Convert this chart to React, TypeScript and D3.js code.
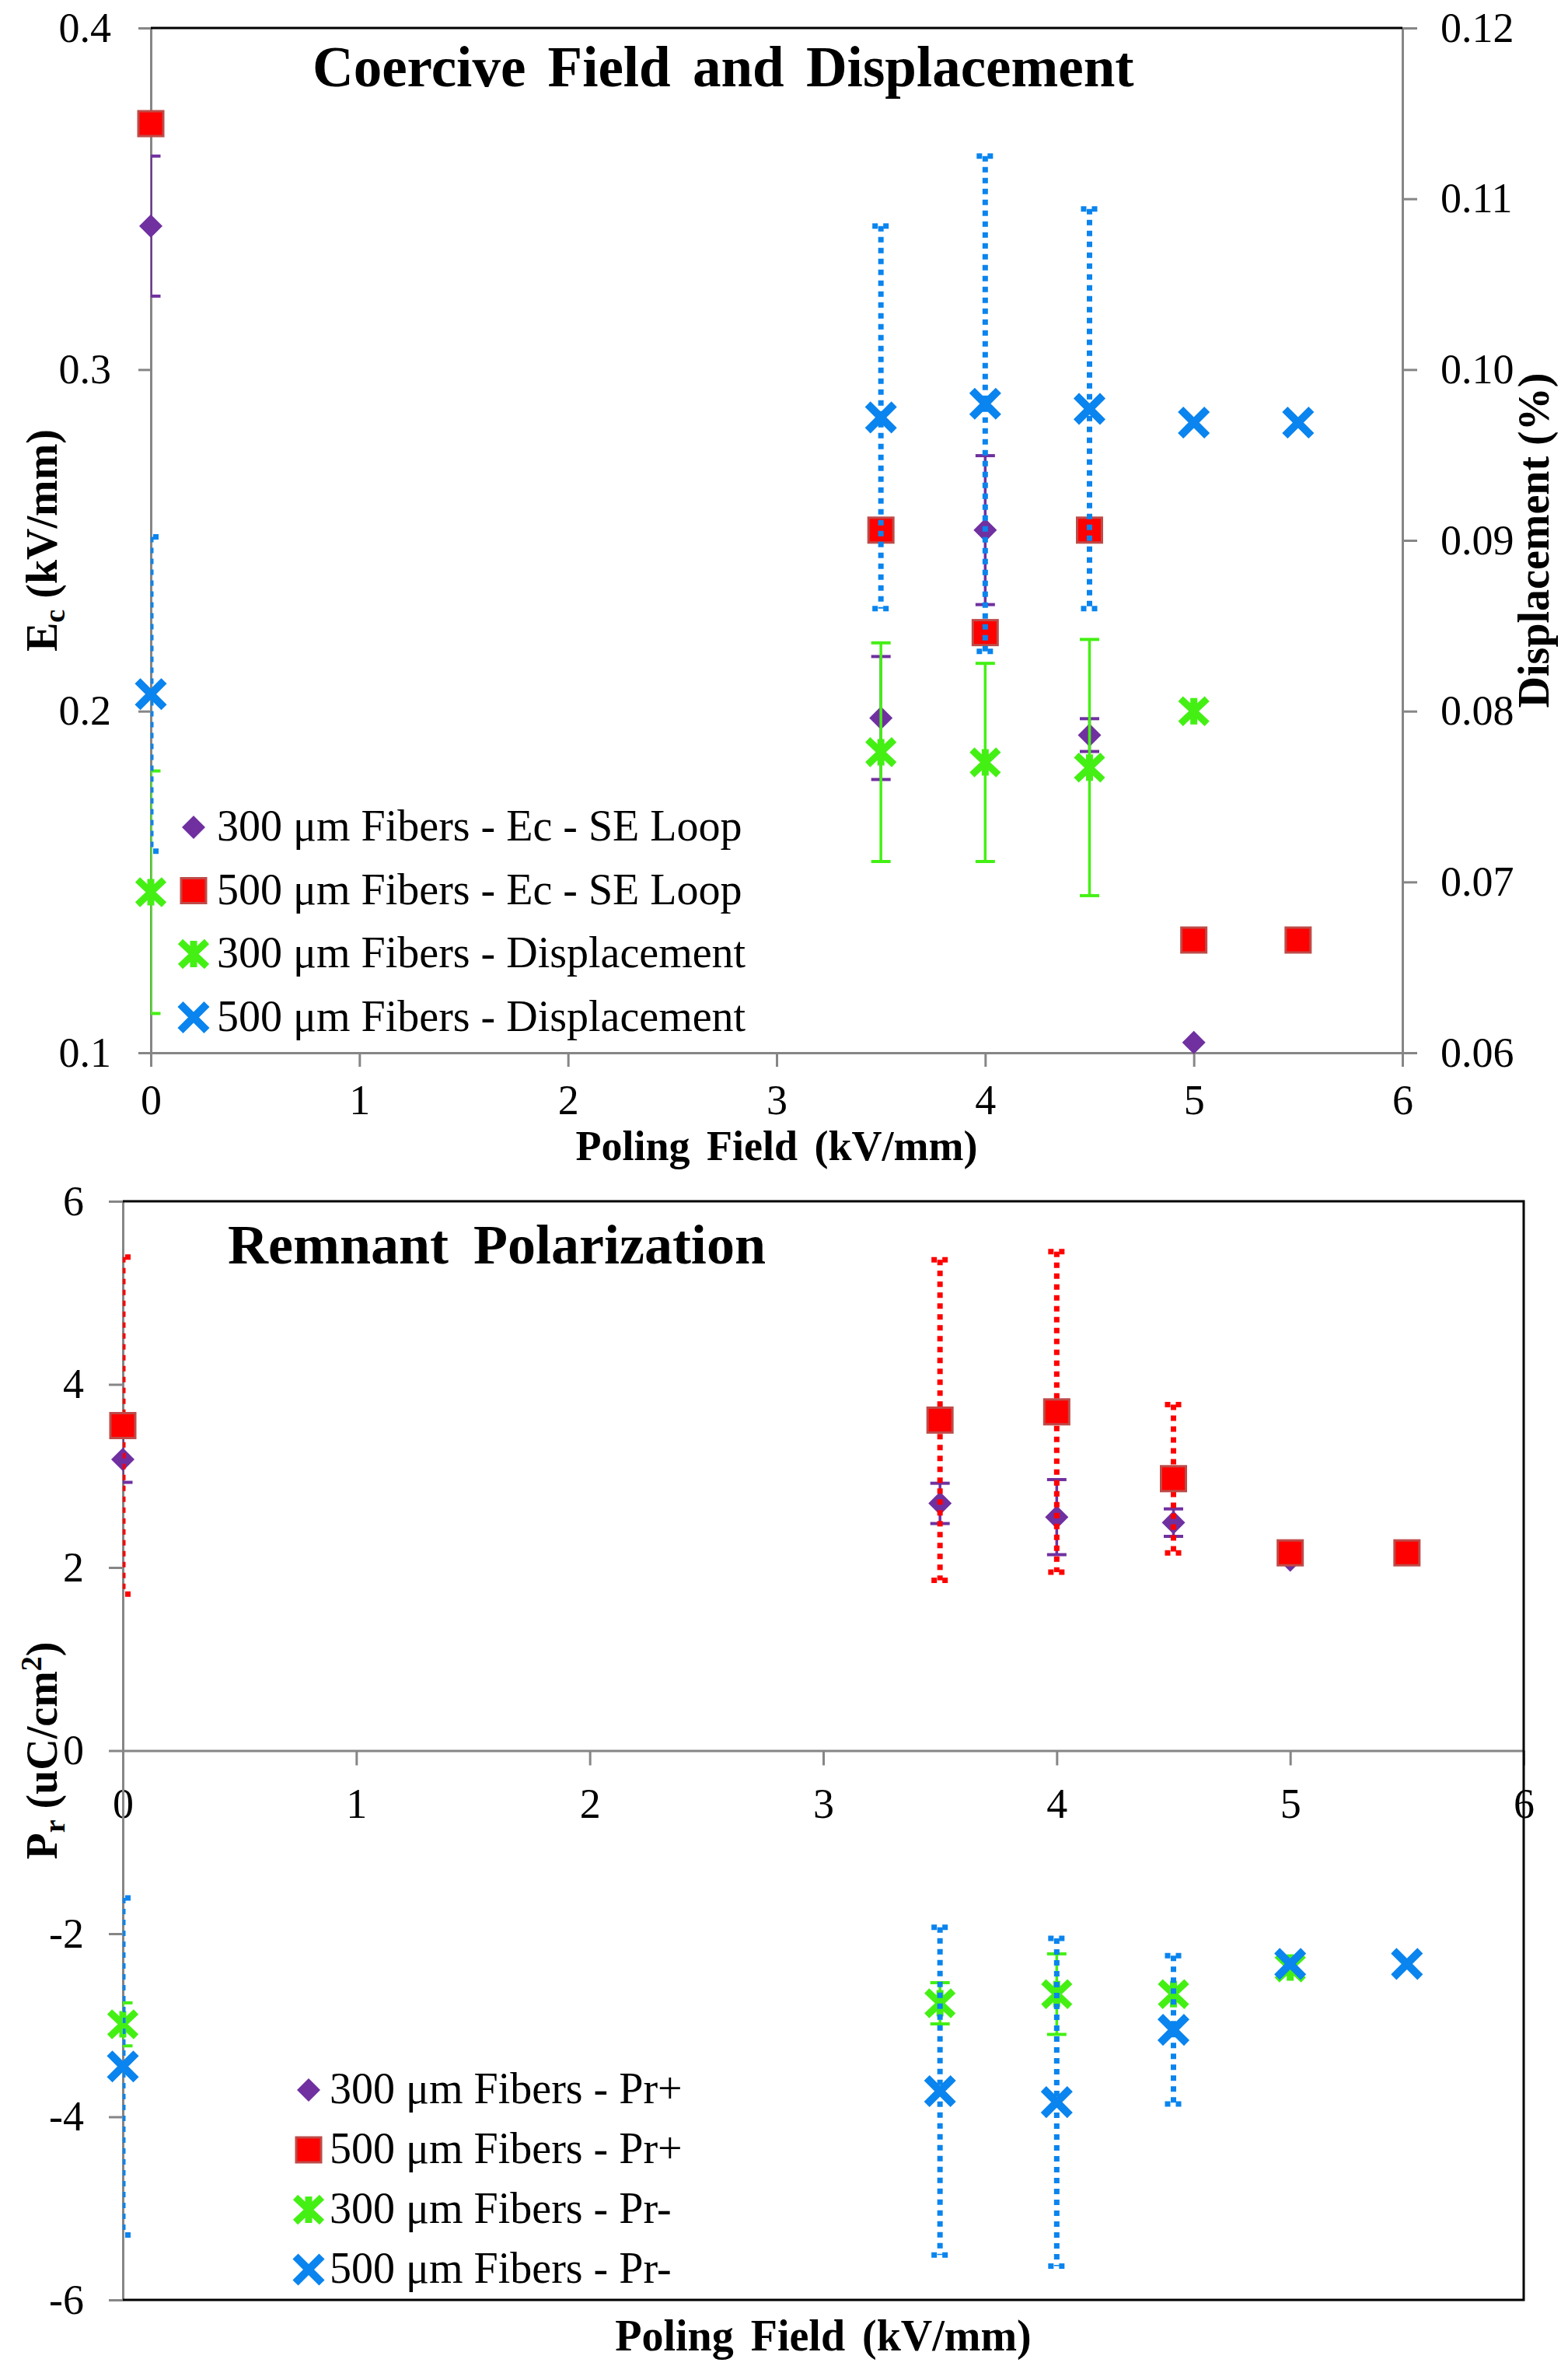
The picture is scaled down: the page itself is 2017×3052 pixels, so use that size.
import { useEffect, useRef } from "react";
import * as d3 from "d3";

const W = 2017;
const H = 3052;

const SERIF = "'Liberation Serif', 'Times New Roman', serif";
const GRAY = "#868686";
const PURPLE = "#7030A0";
const RED = "#FF0000";
const RED_EDGE = "#BE4B48";
const GREEN = "#44F014";
const BLUE = "#0A84EE";

// ---- Top chart: coercive field (left axis) and displacement (right axis)
const fieldEc300 = [0, 3.5, 4, 4.5, 5];
const ec300 = [0.342, 0.198, 0.253, 0.193, 0.103];
const ec300Err = [0.0205, 0.018, 0.0218, 0.0048, 0];

const fieldEc500 = [0, 3.5, 4, 4.5, 5, 5.5];
const ec500 = [0.372, 0.253, 0.223, 0.253, 0.133, 0.133];

const fieldDisp300 = [0, 3.5, 4, 4.5, 5];
const disp300 = [0.0694, 0.0776, 0.077, 0.0767, 0.08];
const disp300Err = [0.0071, 0.0064, 0.0058, 0.0075, 0];

const fieldDisp500 = [0, 3.5, 4, 4.5, 5, 5.5];
const disp500 = [0.081, 0.0972, 0.098, 0.0977, 0.0969, 0.0969];
const disp500Err = [0.0092, 0.0112, 0.0145, 0.0117, 0, 0];

const topLegend = [
  "300 μm Fibers - Ec - SE Loop",
  "500 μm Fibers - Ec - SE Loop",
  "300 μm Fibers - Displacement",
  "500 μm Fibers - Displacement",
];

// ---- Bottom chart: remnant polarization
const fieldPrPlus300 = [0, 3.5, 4, 4.5, 5];
const prPlus300 = [3.18, 2.7, 2.55, 2.49, 2.08];
const prPlus300Err = [0.25, 0.22, 0.41, 0.15, 0];

const fieldPrPlus500 = [0, 3.5, 4, 4.5, 5, 5.5];
const prPlus500 = [3.55, 3.61, 3.7, 2.97, 2.16, 2.16];
const prPlus500Err = [1.84, 1.75, 1.75, 0.81, 0, 0];

const fieldPrMinus300 = [0, 3.5, 4, 4.5, 5];
const prMinus300 = [-2.99, -2.76, -2.66, -2.66, -2.37];
const prMinus300Err = [0.235, 0.225, 0.44, 0, 0];

const fieldPrMinus500 = [0, 3.5, 4, 4.5, 5, 5.5];
const prMinus500 = [-3.45, -3.72, -3.84, -3.05, -2.33, -2.33];
const prMinus500Err = [1.84, 1.79, 1.79, 0.81, 0, 0];

const bottomLegend = [
  "300 μm Fibers - Pr+",
  "500 μm Fibers - Pr+",
  "300 μm Fibers - Pr-",
  "500 μm Fibers - Pr-",
];

const fieldTicks = [0, 1, 2, 3, 4, 5, 6];
const ecTicks = [0.1, 0.2, 0.3, 0.4];
const dispTicks = [0.06, 0.07, 0.08, 0.09, 0.1, 0.11, 0.12];
const prTicks = [-6, -4, -2, 0, 2, 4, 6];

type Shape = "diamond" | "square" | "star" | "cross";
type Sel = d3.Selection<SVGGElement, unknown, null, undefined>;

interface Series {
  x: number[];
  y: number[];
  err: number[] | null;
  shape: Shape;
  dotted: boolean;
  color: string;
  scale: d3.ScaleLinear<number, number>;
}

function drawMarker(g: Sel, shape: Shape, cx: number, cy: number) {
  if (shape === "diamond") {
    g.append("path")
      .attr("d", `M${cx},${cy - 15}L${cx + 15},${cy}L${cx},${cy + 15}L${cx - 15},${cy}Z`)
      .attr("fill", PURPLE);
  } else if (shape === "square") {
    g.append("rect")
      .attr("x", cx - 16)
      .attr("y", cy - 16)
      .attr("width", 32)
      .attr("height", 32)
      .attr("fill", RED)
      .attr("stroke", RED_EDGE)
      .attr("stroke-width", 3);
  } else if (shape === "cross") {
    g.append("path")
      .attr("d", `M${cx - 17},${cy - 17}L${cx + 17},${cy + 17}M${cx + 17},${cy - 17}L${cx - 17},${cy + 17}`)
      .attr("stroke", BLUE)
      .attr("stroke-width", 10)
      .attr("fill", "none");
  } else {
    g.append("path")
      .attr(
        "d",
        `M${cx - 17},${cy - 16}L${cx + 17},${cy + 16}M${cx + 17},${cy - 16}L${cx - 17},${cy + 16}M${cx},${cy - 17}V${cy + 17}`
      )
      .attr("stroke", GREEN)
      .attr("stroke-width", 9)
      .attr("fill", "none");
  }
}

function styleAxis(g: Sel) {
  g.select(".domain").attr("stroke", GRAY).attr("stroke-width", 3);
  g.selectAll(".tick line").attr("stroke", GRAY).attr("stroke-width", 3);
  g.selectAll(".tick text")
    .attr("fill", "#000")
    .attr("font-size", 54)
    .attr("font-family", SERIF);
}

function drawSeries(root: Sel, list: Series[], x: d3.ScaleLinear<number, number>, clipId: string) {
  list.forEach((s) => {
    const eg = root.append("g").attr("clip-path", `url(#${clipId})`);
    if (s.err) {
      s.x.forEach((xv, i) => {
        const e = s.err![i];
        if (!e) return;
        const cx = x(xv);
        const y1 = s.scale(s.y[i] + e);
        const y2 = s.scale(s.y[i] - e);
        const half = s.dotted ? 11 : 12.5;
        const sw = s.dotted ? 7 : 3.5;
        const dash = s.dotted ? "7,7" : null;
        eg.append("line")
          .attr("x1", cx).attr("x2", cx).attr("y1", y1).attr("y2", y2)
          .attr("stroke", s.color).attr("stroke-width", sw).attr("stroke-dasharray", dash);
        [y1, y2].forEach((yy) => {
          eg.append("line")
            .attr("x1", cx - half).attr("x2", cx + half).attr("y1", yy).attr("y2", yy)
            .attr("stroke", s.color).attr("stroke-width", s.dotted ? 7 : 4)
            .attr("stroke-dasharray", dash);
        });
      });
    }
    const mg = root.append("g");
    s.x.forEach((xv, i) => drawMarker(mg, s.shape, x(xv), s.scale(s.y[i])));
  });
}

function drawLegend(root: Sel, labels: string[], shapes: Shape[], mx: number, tx: number, y0: number, step: number) {
  const g = root.append("g");
  labels.forEach((label, i) => {
    const cy = y0 + i * step;
    drawMarker(g, shapes[i], mx, cy);
    g.append("text")
      .attr("x", tx)
      .attr("y", cy + 17)
      .attr("font-family", SERIF)
      .attr("font-size", 56)
      .attr("fill", "#000")
      .text(label);
  });
}

function drawTop(svg: d3.Selection<SVGSVGElement, unknown, null, undefined>) {
  const root = svg.append("g") as unknown as Sel;
  const left = 194, right = 1804, top = 36, bottom = 1354;

  const x = d3.scaleLinear().domain([0, 6]).range([left, right]);
  const yL = d3.scaleLinear().domain([0.1, 0.4]).range([bottom, top]);
  const yR = d3.scaleLinear().domain([0.06, 0.12]).range([bottom, top]);

  svg.select("defs")
    .append("clipPath").attr("id", "clipTop")
    .append("rect").attr("x", left).attr("y", top).attr("width", right - left).attr("height", bottom - top);

  root.append("g")
    .attr("transform", `translate(0,${bottom})`)
    .call(d3.axisBottom(x).tickValues(fieldTicks).tickSize(18).tickSizeOuter(0).tickPadding(23).tickFormat((d) => String(d)))
    .call(styleAxis);

  root.append("g")
    .attr("transform", `translate(${left},0)`)
    .call(d3.axisLeft(yL).tickValues(ecTicks).tickSize(16).tickSizeOuter(0).tickPadding(35).tickFormat(d3.format(".1f")))
    .call(styleAxis);

  root.append("g")
    .attr("transform", `translate(${right},0)`)
    .call(d3.axisRight(yR).tickValues(dispTicks).tickSize(19).tickSizeOuter(0).tickPadding(30).tickFormat(d3.format(".2f")))
    .call(styleAxis);

  // top border
  root.append("line")
    .attr("x1", left).attr("x2", right).attr("y1", top).attr("y2", top)
    .attr("stroke", "#000").attr("stroke-width", 3);

  root.append("text")
    .attr("x", 402).attr("y", 111)
    .attr("font-family", SERIF).attr("font-weight", "bold").attr("font-size", 73)
    .attr("word-spacing", 10)
    .text("Coercive Field and Displacement");

  root.append("text")
    .attr("x", (left + right) / 2).attr("y", 1492)
    .attr("text-anchor", "middle")
    .attr("font-family", SERIF).attr("font-weight", "bold").attr("font-size", 54)
    .attr("word-spacing", 8)
    .text("Poling Field (kV/mm)");

  const ly = root.append("text")
    .attr("transform", `translate(73,${(top + bottom) / 2}) rotate(-90)`)
    .attr("text-anchor", "middle")
    .attr("font-family", SERIF).attr("font-weight", "bold").attr("font-size", 56);
  ly.append("tspan").text("E");
  ly.append("tspan").attr("font-size", 38).attr("dy", 10).text("c");
  ly.append("tspan").attr("dy", -10).text(" (kV/mm)");

  root.append("text")
    .attr("transform", `translate(1992,${(top + bottom) / 2}) rotate(-90)`)
    .attr("text-anchor", "middle")
    .attr("font-family", SERIF).attr("font-weight", "bold").attr("font-size", 56)
    .text("Displacement (%)");

  const series: Series[] = [
    { x: fieldEc300, y: ec300, err: ec300Err, shape: "diamond", dotted: false, color: PURPLE, scale: yL },
    { x: fieldEc500, y: ec500, err: null, shape: "square", dotted: false, color: RED, scale: yL },
    { x: fieldDisp300, y: disp300, err: disp300Err, shape: "star", dotted: false, color: GREEN, scale: yR },
    { x: fieldDisp500, y: disp500, err: disp500Err, shape: "cross", dotted: true, color: BLUE, scale: yR },
  ];
  drawSeries(root, series, x, "clipTop");

  drawLegend(root, topLegend, ["diamond", "square", "star", "cross"], 249, 279, 1064, 81.5);
}

function drawBottom(svg: d3.Selection<SVGSVGElement, unknown, null, undefined>) {
  const root = svg.append("g") as unknown as Sel;
  const left = 158, right = 1960, top = 1545, bottom = 2958;

  const x = d3.scaleLinear().domain([0, 6]).range([left, right]);
  const y = d3.scaleLinear().domain([-6, 6]).range([bottom, top]);

  svg.select("defs")
    .append("clipPath").attr("id", "clipBottom")
    .append("rect").attr("x", left).attr("y", top).attr("width", right - left).attr("height", bottom - top);

  root.append("g")
    .attr("transform", `translate(0,${y(0)})`)
    .call(d3.axisBottom(x).tickValues(fieldTicks).tickSize(19).tickSizeOuter(0).tickPadding(29).tickFormat((d) => String(d)))
    .call(styleAxis);

  root.append("g")
    .attr("transform", `translate(${left},0)`)
    .call(d3.axisLeft(y).tickValues(prTicks).tickSize(18).tickSizeOuter(0).tickPadding(32).tickFormat((d) => String(d)))
    .call(styleAxis);

  // plot border: top, right, bottom
  root.append("path")
    .attr("d", `M${left},${top}H${right}V${bottom}H${left}`)
    .attr("fill", "none").attr("stroke", "#000").attr("stroke-width", 3);

  root.append("text")
    .attr("x", 293).attr("y", 1625)
    .attr("font-family", SERIF).attr("font-weight", "bold").attr("font-size", 72)
    .attr("word-spacing", 14)
    .text("Remnant Polarization");

  root.append("text")
    .attr("x", (left + right) / 2).attr("y", 3023)
    .attr("text-anchor", "middle")
    .attr("font-family", SERIF).attr("font-weight", "bold").attr("font-size", 56)
    .attr("word-spacing", 8)
    .text("Poling Field (kV/mm)");

  const ly = root.append("text")
    .attr("transform", `translate(73,${(top + bottom) / 2}) rotate(-90)`)
    .attr("text-anchor", "middle")
    .attr("font-family", SERIF).attr("font-weight", "bold").attr("font-size", 56);
  ly.append("tspan").text("P");
  ly.append("tspan").attr("font-size", 38).attr("dy", 10).text("r");
  ly.append("tspan").attr("dy", -10).text(" (uC/cm");
  ly.append("tspan").attr("font-size", 38).attr("dy", -20).text("2");
  ly.append("tspan").attr("dy", 20).text(")");

  const series: Series[] = [
    { x: fieldPrPlus300, y: prPlus300, err: prPlus300Err, shape: "diamond", dotted: false, color: PURPLE, scale: y },
    { x: fieldPrPlus500, y: prPlus500, err: prPlus500Err, shape: "square", dotted: true, color: RED, scale: y },
    { x: fieldPrMinus300, y: prMinus300, err: prMinus300Err, shape: "star", dotted: false, color: GREEN, scale: y },
    { x: fieldPrMinus500, y: prMinus500, err: prMinus500Err, shape: "cross", dotted: true, color: BLUE, scale: y },
  ];
  drawSeries(root, series, x, "clipBottom");

  drawLegend(root, bottomLegend, ["diamond", "square", "star", "cross"], 397, 424, 2688, 77);
}

export default function App() {
  const svgRef = useRef<SVGSVGElement>(null);

  useEffect(() => {
    const el = svgRef.current;
    if (!el) return;
    const svg = d3.select(el);
    svg.selectAll("*").remove();
    svg.append("defs");
    svg.append("rect").attr("width", W).attr("height", H).attr("fill", "#fff");
    drawTop(svg);
    drawBottom(svg);
  }, []);

  return (
    <svg
      ref={svgRef}
      width={W}
      height={H}
      viewBox={`0 0 ${W} ${H}`}
      style={{ position: "absolute", left: 0, top: 0, display: "block" }}
    />
  );
}
